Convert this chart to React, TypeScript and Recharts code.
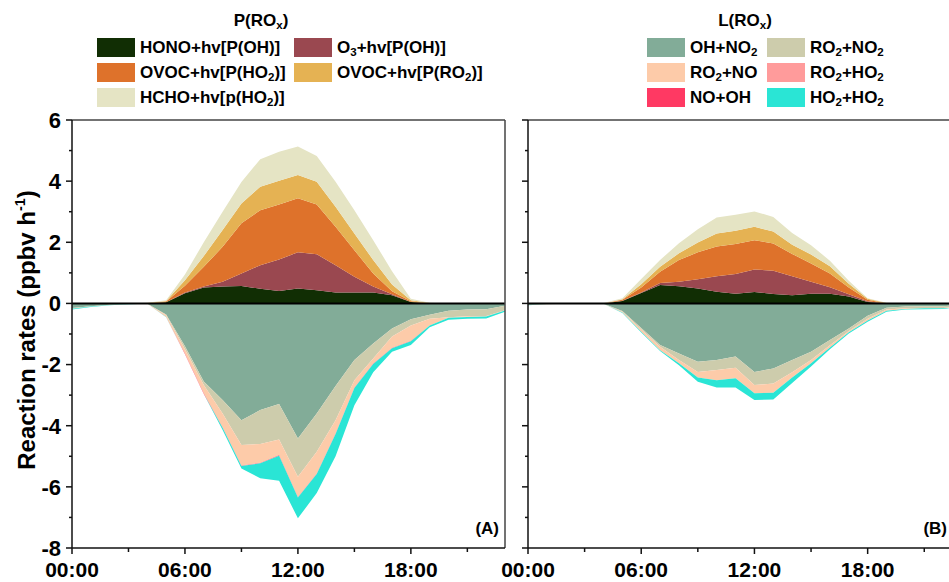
import React from 'react';
import { AreaChart, Area, XAxis, YAxis, ReferenceLine } from 'recharts';

// ---------- data ----------
const HOURS = [0, 1, 2, 3, 4, 5, 6, 7, 8, 9, 10, 11, 12, 13, 14, 15, 16, 17, 18, 19, 20, 21, 22, 23];
const X_TICKS = [0, 3, 6, 9, 12, 15, 18, 21];
const X_LABELS: Record<number, string> = { 0: '00:00', 6: '06:00', 12: '12:00', 18: '18:00' };
const Y_TICKS = [-8, -7, -6, -5, -4, -3, -2, -1, 0, 1, 2, 3, 4, 5, 6];

// Panel A – production P(ROx)
const A_HONO = [0, 0, 0, 0, 0, 0.04, 0.33, 0.52, 0.55, 0.57, 0.48, 0.41, 0.49, 0.43, 0.36, 0.36, 0.36, 0.27, 0.05, 0, 0, 0, 0, 0];
const A_O3 = [0, 0, 0, 0, 0, 0, 0.03, 0.03, 0.16, 0.41, 0.77, 1.03, 1.18, 1.18, 0.89, 0.51, 0.19, 0.03, 0, 0, 0, 0, 0, 0];
const A_OVOC_HO2 = [0, 0, 0, 0, 0, 0.02, 0.22, 0.65, 1.14, 1.64, 1.8, 1.8, 1.77, 1.63, 1.26, 0.87, 0.43, 0.1, 0.02, 0, 0, 0, 0, 0];
const A_OVOC_RO2 = [0, 0, 0, 0, 0.01, 0.02, 0.18, 0.35, 0.55, 0.65, 0.77, 0.77, 0.76, 0.74, 0.65, 0.55, 0.44, 0.22, 0.03, 0.01, 0, 0, 0, 0];
const A_HCHO = [0, 0, 0, 0, 0.01, 0.02, 0.19, 0.45, 0.6, 0.7, 0.9, 0.95, 0.93, 0.84, 0.82, 0.76, 0.65, 0.43, 0.05, 0.01, 0, 0, 0, 0];
// Panel A – loss L(ROx)
const A_OH_NO2 = [-0.15, -0.09, -0.04, -0.02, -0.01, -0.36, -1.4, -2.55, -3.16, -3.82, -3.49, -3.29, -4.42, -3.6, -2.7, -1.85, -1.31, -0.82, -0.52, -0.37, -0.24, -0.2, -0.19, -0.08];
const A_RO2_NO2 = [-0.02, -0.01, -0.01, 0, 0, -0.03, -0.1, -0.12, -0.44, -0.81, -1.11, -1.16, -1.25, -1.25, -1.12, -0.66, -0.49, -0.26, -0.2, -0.13, -0.21, -0.22, -0.22, -0.14];
const A_RO2_NO = [0, 0, 0, 0, 0, -0.05, -0.14, -0.27, -0.45, -0.67, -0.61, -0.51, -0.66, -0.71, -0.43, -0.24, -0.16, -0.37, -0.5, -0.22, -0.02, -0.02, -0.02, -0.01];
const A_RO2_HO2 = [0, 0, 0, 0, 0, 0, -0.01, -0.01, -0.01, -0.01, -0.01, -0.01, -0.01, -0.01, -0.01, -0.01, -0.01, -0.01, -0.01, 0, 0, 0, 0, 0];
const A_NO_OH = [0, 0, 0, 0, 0, 0, -0.01, -0.01, -0.01, -0.01, -0.01, -0.01, -0.01, -0.01, -0.01, -0.01, -0.01, -0.01, -0.01, 0, 0, 0, 0, 0];
const A_HO2_HO2 = [-0.03, -0.02, -0.01, -0.01, 0, -0.01, 0, 0, -0.07, -0.08, -0.49, -0.82, -0.68, -0.62, -0.73, -0.56, -0.27, -0.11, -0.12, -0.06, -0.06, -0.06, -0.06, -0.04];

// Panel B – production P(ROx)
const B_HONO = [0, 0, 0, 0, 0, 0.08, 0.34, 0.6, 0.56, 0.49, 0.38, 0.32, 0.37, 0.31, 0.27, 0.32, 0.32, 0.23, 0.05, 0, 0, 0, 0, 0];
const B_O3 = [0, 0, 0, 0, 0, 0.01, 0.02, 0.07, 0.15, 0.3, 0.51, 0.64, 0.74, 0.76, 0.62, 0.39, 0.21, 0.07, 0.02, 0, 0, 0, 0, 0];
const B_OVOC_HO2 = [0, 0, 0, 0, 0, 0.03, 0.16, 0.37, 0.71, 0.88, 0.97, 0.98, 0.96, 0.89, 0.73, 0.6, 0.45, 0.22, 0.05, 0, 0, 0, 0, 0];
const B_OVOC_RO2 = [0, 0, 0, 0, 0, 0.02, 0.11, 0.16, 0.22, 0.32, 0.43, 0.44, 0.44, 0.39, 0.3, 0.29, 0.24, 0.12, 0.03, 0.01, 0, 0, 0, 0];
const B_HCHO = [0, 0, 0, 0, 0.01, 0.03, 0.17, 0.22, 0.33, 0.44, 0.52, 0.52, 0.5, 0.48, 0.38, 0.3, 0.18, 0.1, 0.02, 0.01, 0, 0, 0, 0];
// Panel B – loss L(ROx)
const B_OH_NO2 = [-0.04, -0.02, -0.01, 0, -0.01, -0.25, -0.8, -1.36, -1.64, -1.91, -1.85, -1.74, -2.24, -2.13, -1.85, -1.58, -1.2, -0.82, -0.4, -0.14, -0.1, -0.09, -0.09, -0.05];
const B_RO2_NO2 = [-0.01, -0.01, 0, 0, 0, -0.02, -0.05, -0.06, -0.21, -0.33, -0.33, -0.36, -0.43, -0.49, -0.4, -0.27, -0.17, -0.08, -0.1, -0.06, -0.06, -0.06, -0.06, -0.05];
const B_RO2_NO = [0, 0, 0, 0, 0, -0.03, -0.08, -0.11, -0.11, -0.18, -0.33, -0.35, -0.27, -0.3, -0.17, -0.11, -0.07, -0.04, -0.06, -0.04, -0.02, -0.01, -0.01, 0];
const B_RO2_HO2 = [0, 0, 0, 0, 0, 0, 0, 0, 0, 0, 0, 0, 0, 0, 0, 0, 0, 0, 0, 0, 0, 0, 0, 0];
const B_NO_OH = [0, 0, 0, 0, 0, 0, 0, 0, 0, 0, 0, 0, 0, 0, 0, 0, 0, 0, 0, 0, 0, 0, 0, 0];
const B_HO2_HO2 = [-0.01, 0, 0, -0.01, 0, -0.01, -0.02, -0.03, -0.06, -0.14, -0.24, -0.3, -0.22, -0.22, -0.18, -0.1, -0.06, -0.04, -0.04, -0.03, -0.02, -0.03, -0.02, -0.02];

// ---------- series meta ----------
const POS_SERIES = [
  { key: 'hono', color: '#112E04' },
  { key: 'o3', color: '#9A4850' },
  { key: 'ovocHo2', color: '#DE722B' },
  { key: 'ovocRo2', color: '#E5B253' },
  { key: 'hcho', color: '#E5E4C4' },
];
const NEG_SERIES = [
  { key: 'ohNo2', color: '#82AC98' },
  { key: 'ro2No2', color: '#CDCCAC' },
  { key: 'ro2No', color: '#FDCBA9' },
  { key: 'ro2Ho2', color: '#FF9B9B' },
  { key: 'noOh', color: '#FF3963' },
  { key: 'ho2Ho2', color: '#2AE5D5' },
];

function buildRows(pos: number[][], neg: number[][]) {
  return HOURS.map((h, i) => {
    const row: Record<string, number> = { hour: h };
    POS_SERIES.forEach((s, k) => (row[s.key] = pos[k][i]));
    NEG_SERIES.forEach((s, k) => (row[s.key] = neg[k][i]));
    return row;
  });
}

const ROWS_A = buildRows(
  [A_HONO, A_O3, A_OVOC_HO2, A_OVOC_RO2, A_HCHO],
  [A_OH_NO2, A_RO2_NO2, A_RO2_NO, A_RO2_HO2, A_NO_OH, A_HO2_HO2]
);
const ROWS_B = buildRows(
  [B_HONO, B_O3, B_OVOC_HO2, B_OVOC_RO2, B_HCHO],
  [B_OH_NO2, B_RO2_NO2, B_RO2_NO, B_RO2_HO2, B_NO_OH, B_HO2_HO2]
);

// ---------- styling ----------
const FONT = '"Liberation Sans", Arial, Helvetica, sans-serif';
const AXIS = '#111';

function YTick(props: any) {
  const { x, y, payload, showLabel } = props;
  const axisX = x + 11; // tickSize 6 + tickMargin 5
  const v = payload.value;
  const major = v % 2 === 0;
  return (
    <g>
      <line x1={axisX - (major ? 6 : 3)} x2={axisX} y1={y} y2={y} stroke={AXIS} strokeWidth={1.5} />
      {showLabel && major && (
        <text x={axisX - 11} y={y} dy="0.36em" textAnchor="end" fontSize={22} fontWeight="bold" fontFamily={FONT} fill="#000">
          {v}
        </text>
      )}
    </g>
  );
}

function XTick(props: any) {
  const { x, y, payload } = props;
  const axisY = y - 8; // tickSize 6 + tickMargin 2
  const v = payload.value;
  const major = v % 6 === 0;
  return (
    <g>
      <line x1={x} x2={x} y1={axisY} y2={axisY + (major ? 6 : 4)} stroke={AXIS} strokeWidth={1.5} />
      {major && (
        <text x={x} y={axisY + 29} textAnchor="middle" fontSize={21} fontWeight="bold" fontFamily={FONT} fill="#000">
          {X_LABELS[v]}
        </text>
      )}
    </g>
  );
}

function Panel({ rows, showYLabels, left, width, marginRight }: any) {
  return (
    <div style={{ position: 'absolute', left, top: 0 }}>
      <AreaChart width={width} height={582} data={rows} margin={{ top: 120, right: marginRight, bottom: 0, left: 0 }}>
        <XAxis
          dataKey="hour"
          type="number"
          domain={[0, 23]}
          ticks={X_TICKS}
          interval={0}
          height={34}
          tickSize={6}
          tickMargin={2}
          tickLine={false}
          axisLine={{ stroke: AXIS, strokeWidth: 1.5 }}
          tick={<XTick />}
        />
        <YAxis
          type="number"
          domain={[-8, 6]}
          ticks={Y_TICKS}
          interval={0}
          width={72}
          tickSize={6}
          tickMargin={5}
          tickLine={false}
          axisLine={{ stroke: AXIS, strokeWidth: 1.5 }}
          tick={<YTick showLabel={showYLabels} />}
        />
        {POS_SERIES.map((s) => (
          <Area
            key={s.key}
            type="linear"
            dataKey={s.key}
            stackId="pos"
            stroke="none"
            fill={s.color}
            fillOpacity={1}
            dot={false}
            activeDot={false}
            isAnimationActive={false}
          />
        ))}
        {NEG_SERIES.map((s) => (
          <Area
            key={s.key}
            type="linear"
            dataKey={s.key}
            stackId="neg"
            stroke="none"
            fill={s.color}
            fillOpacity={1}
            dot={false}
            activeDot={false}
            isAnimationActive={false}
          />
        ))}
        <ReferenceLine y={0} stroke="#000" strokeWidth={2} />
        <ReferenceLine y={6} stroke="#444" strokeWidth={1.5} />
        <ReferenceLine x={23} stroke="#444" strokeWidth={1.5} />
      </AreaChart>
    </div>
  );
}

const textBase: React.CSSProperties = {
  position: 'absolute',
  fontFamily: FONT,
  fontWeight: 'bold',
  fontSize: 17,
  color: '#000',
  whiteSpace: 'nowrap',
  lineHeight: '19px',
};
const subStyle: React.CSSProperties = { fontSize: '0.68em', verticalAlign: '-0.25em', lineHeight: 0 };

function Sub({ children }: any) {
  return <span style={subStyle}>{children}</span>;
}

function LegendItem({ x, y, color, label }: any) {
  return (
    <>
      <div style={{ position: 'absolute', left: x, top: y, width: 38, height: 19, background: color }} />
      <div style={{ ...textBase, left: x + 43, top: y }}>{label}</div>
    </>
  );
}

const ROW_Y = [37.5, 62.5, 87.5];

export default function App() {
  return (
    <div style={{ position: 'absolute', left: 0, top: 0, width: 949, height: 582, overflow: 'hidden', background: '#fff' }}>
      <Panel rows={ROWS_A} showYLabels={true} left={0} width={520} marginRight={15} />
      <Panel rows={ROWS_B} showYLabels={false} left={456} width={516} marginRight={10} />

      {/* P(ROx) legend */}
      <div style={{ ...textBase, left: 261, top: 11, transform: 'translateX(-50%)' }}>
        P(RO<Sub>x</Sub>)
      </div>
      <LegendItem x={97} y={ROW_Y[0]} color={POS_SERIES[0].color} label={<>HONO+hv[P(OH)]</>} />
      <LegendItem x={294} y={ROW_Y[0]} color={POS_SERIES[1].color} label={<>O<Sub>3</Sub>+hv[P(OH)]</>} />
      <LegendItem x={97} y={ROW_Y[1]} color={POS_SERIES[2].color} label={<>OVOC+hv[P(HO<Sub>2</Sub>)]</>} />
      <LegendItem x={294} y={ROW_Y[1]} color={POS_SERIES[3].color} label={<>OVOC+hv[P(RO<Sub>2</Sub>)]</>} />
      <LegendItem x={97} y={ROW_Y[2]} color={POS_SERIES[4].color} label={<>HCHO+hv[p(HO<Sub>2</Sub>)]</>} />

      {/* L(ROx) legend */}
      <div style={{ ...textBase, left: 745, top: 11, transform: 'translateX(-50%)' }}>
        L(RO<Sub>x</Sub>)
      </div>
      <LegendItem x={647} y={ROW_Y[0]} color={NEG_SERIES[0].color} label={<>OH+NO<Sub>2</Sub></>} />
      <LegendItem x={767} y={ROW_Y[0]} color={NEG_SERIES[1].color} label={<>RO<Sub>2</Sub>+NO<Sub>2</Sub></>} />
      <LegendItem x={647} y={ROW_Y[1]} color={NEG_SERIES[2].color} label={<>RO<Sub>2</Sub>+NO</>} />
      <LegendItem x={767} y={ROW_Y[1]} color={NEG_SERIES[3].color} label={<>RO<Sub>2</Sub>+HO<Sub>2</Sub></>} />
      <LegendItem x={647} y={ROW_Y[2]} color={NEG_SERIES[4].color} label={<>NO+OH</>} />
      <LegendItem x={767} y={ROW_Y[2]} color={NEG_SERIES[5].color} label={<>HO<Sub>2</Sub>+HO<Sub>2</Sub></>} />

      {/* Y axis title */}
      <div
        style={{
          ...textBase,
          fontSize: 24,
          lineHeight: '28px',
          left: 27,
          top: 330,
          transform: 'translate(-50%, -50%) rotate(-90deg)',
        }}
      >
        Reaction rates (ppbv h<span style={{ fontSize: '0.6em', verticalAlign: '0.7em', lineHeight: 0 }}>-1</span>)
      </div>

      {/* panel tags */}
      <div style={{ ...textBase, left: 440, top: 519, width: 59, textAlign: 'right' }}>(A)</div>
      <div style={{ ...textBase, left: 888, top: 519, width: 59, textAlign: 'right' }}>(B)</div>
    </div>
  );
}
